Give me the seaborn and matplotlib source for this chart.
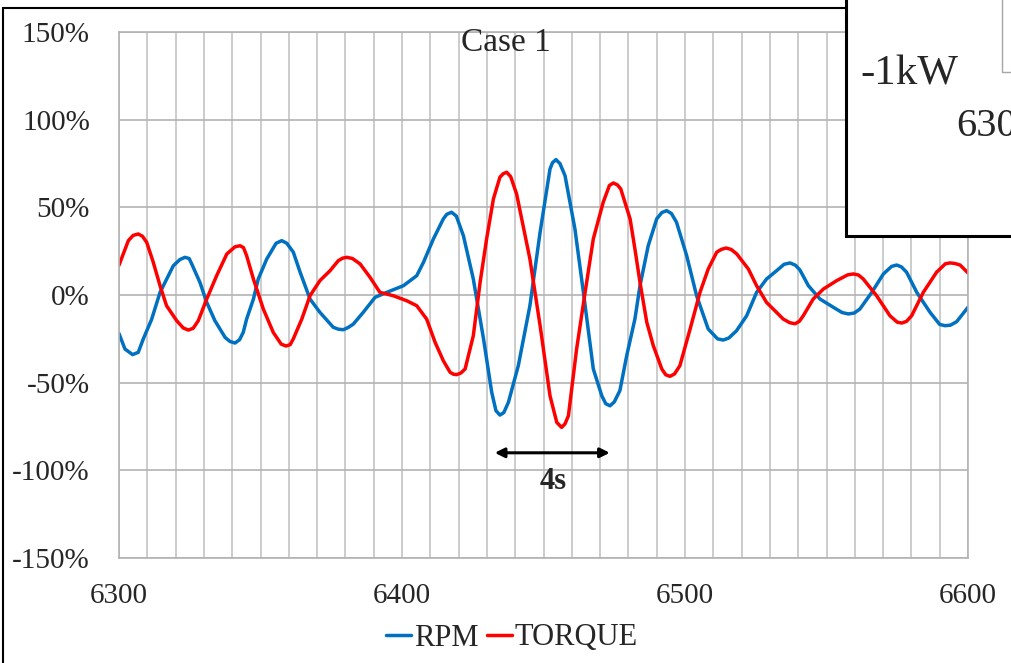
import numpy as np
import pandas as pd
import seaborn as sns
import matplotlib.pyplot as plt
from matplotlib.patches import Rectangle
from matplotlib.ticker import PercentFormatter, MultipleLocator

# RPM (blue), values in percent
rpm_t = [6300, 6302.1, 6304.8, 6306.8, 6308.6, 6311.5, 6314.5, 6319.2, 6321.5, 6323.3,
         6324.8, 6325.7, 6328.6, 6331, 6333.9, 6337.5, 6339.2, 6341, 6342.6, 6343.9,
         6345.1, 6347.5, 6349.2, 6352.2, 6355.5, 6357.5, 6359.3, 6361.6, 6364, 6367.5,
         6371, 6375.7, 6377.5, 6379.3, 6381, 6382.8, 6386.3, 6390.5, 6394.6, 6400.5,
         6405.2, 6407.6, 6411.1, 6414.6, 6415.8, 6417.5, 6419.2, 6421.7, 6425.2, 6428.8,
         6431.7, 6433.2, 6434.6, 6436, 6437.6, 6441.1, 6445.2, 6448.8, 6452.3, 6453.2,
         6454.4, 6455.8, 6457.6, 6461.1, 6464.1, 6467.6, 6470.6, 6472, 6473.5, 6475,
         6477, 6479.4, 6482.3, 6484.1, 6487, 6490, 6491.8, 6493.5, 6495.2, 6497,
         6500.6, 6504.1, 6508.2, 6511.5, 6513.5, 6515.5, 6518.2, 6521.8, 6525.3, 6528.8,
         6532.4, 6535, 6537.1, 6539, 6540.6, 6543.6, 6547.7, 6552.4, 6555.5, 6557.7,
         6559.8, 6561.8, 6566, 6570.1, 6573, 6574.8, 6576.5, 6578.3, 6581.9, 6586.6,
         6590, 6591.9, 6593.8, 6596, 6600]
rpm_v = [-22, -30.8, -34, -32.7, -25, -14, 1.5, 16.7, 20.2, 21.5,
         20.8, 17.7, 7.2, -4.2, -14.7, -24.2, -26.5, -27.4, -25.5, -21.3,
         -13.7, -2.3, 9.1, 20.5, 29.5, 31, 29.5, 24.4, 13, -2.3,
         -9.9, -18.4, -19.5, -19.8, -18.5, -16.6, -9.9, -1.3, 1.5, 5.3,
         11, 18.7, 32, 43.4, 46, 47.2, 45, 33.8, 9.1, -25,
         -55.5, -66, -68.5, -67, -61.2, -40.3, -6.1, 35.8, 71.9, 75.5,
         77.2, 75, 68.1, 37.7, 1.5, -42.2, -57.5, -62, -63.2, -61,
         -54.5, -34.6, -13.7, 5.3, 28.1, 43.4, 47, 48.1, 46.5, 41.5,
         22.4, -0.4, -19.4, -25, -25.7, -24.5, -20.4, -11.8, 1.5, 9.1,
         13.9, 17.5, 18.3, 17, 14.3, 5.3, -2.3, -7, -10, -10.8,
         -10.3, -8, 1.5, 12, 16.3, 17.1, 16, 13, 1.5, -9.9,
         -16.8, -17.5, -17.2, -15.2, -7]

# TORQUE (red), values in percent
trq_t = [6300, 6303.3, 6305, 6306.8, 6308.3, 6309.8, 6312.1, 6314.5, 6316.8, 6320.4,
         6322.7, 6324.5, 6326.2, 6328, 6331, 6334.5, 6338.1, 6341, 6342.8, 6344,
         6345.1, 6347.5, 6351, 6354.5, 6357.3, 6359, 6360.5, 6361.6, 6364.6, 6367.5,
         6371, 6374.6, 6377.5, 6379, 6380.5, 6382.5, 6385.2, 6388.7, 6392.2, 6396.9,
         6401.7, 6405.2, 6408.7, 6411.7, 6414.6, 6417, 6418.2, 6419.3, 6420.8, 6422.3,
         6425.2, 6427.6, 6429.9, 6432.3, 6434.6, 6435.8, 6437, 6438.4, 6440.5, 6445.2,
         6448.8, 6452.3, 6454.7, 6456.4, 6457.6, 6458.8, 6461.7, 6464.7, 6467.6, 6471.1,
         6473.3, 6474.7, 6476.1, 6477.3, 6480.6, 6482.3, 6484.1, 6486.5, 6488.8, 6491.8,
         6493.2, 6494.7, 6496.3, 6498.2, 6501.8, 6505.3, 6508.2, 6511.2, 6512.8, 6514.5,
         6516.3, 6518.3, 6522.4, 6525.3, 6528.8, 6534.7, 6537, 6538.9, 6540.4, 6541.8,
         6545.3, 6548.9, 6553.6, 6557.5, 6559.5, 6561.3, 6563, 6567.7, 6572.4, 6575,
         6576.6, 6578.3, 6580.1, 6584.2, 6588.9, 6592, 6593.6, 6595.3, 6597.2, 6600]
trq_v = [17, 31, 34, 34.8, 33.5, 30, 18.7, 5.3, -6.1, -14.7,
         -18.8, -20, -19, -14.7, -2.3, 11, 23.4, 27.5, 28.1, 27,
         22.4, 9.1, -8, -21.3, -28, -29.1, -28.3, -25, -13.7, -0.4,
         8.2, 13.9, 19.6, 21, 21.5, 20.8, 17.7, 10.1, 1.5, -0.4,
         -3.3, -6.1, -13.7, -27, -37.5, -44.1, -45.2, -45.4, -44.5, -42.2,
         -23.2, 7.2, 32, 54.8, 67.2, 69.2, 70, 67.5, 57.6, 20.5,
         -17.5, -57.5, -72.7, -75.5, -73.5, -68.9, -30.8, 1.5, 32, 52.9,
         62.5, 63.9, 62.8, 60.5, 43.4, 26.3, 7.2, -15.6, -28.9, -42.2,
         -45.5, -46.4, -45, -40.3, -19.4, 1.5, 14.8, 24.4, 26, 26.8,
         26, 23.4, 14.8, 5.3, -4.2, -13.7, -15.8, -16.4, -15, -11.8,
         -2.3, 3.4, 8.2, 11.5, 12, 11.4, 9.1, -0.4, -11.8, -15.5,
         -16, -15, -11.8, 1.5, 13, 17.8, 18.3, 18, 17.1, 12.6]

sns.set_style("white")
plt.rcParams['font.family'] = ['Liberation Serif', 'DejaVu Serif']
plt.rcParams['axes.unicode_minus'] = False

W, H = 1012, 663
fig = plt.figure(figsize=(W / 100, H / 100), dpi=100)
ax = fig.add_axes([119 / W, 1 - 558 / H, 849 / W, 526 / H])

sns.lineplot(x=rpm_t, y=rpm_v, ax=ax, color='#0070C0', linewidth=2.5, label='RPM')
sns.lineplot(x=trq_t, y=trq_v, ax=ax, color='#FF0000', linewidth=2.5, label='TORQUE')

ax.set_xlim(6300, 6600)
ax.set_ylim(-150, 150)
ax.xaxis.set_major_locator(MultipleLocator(100))
ax.xaxis.set_minor_locator(MultipleLocator(10))
ax.yaxis.set_major_locator(MultipleLocator(50))
ax.yaxis.set_major_formatter(PercentFormatter(xmax=100, decimals=0))
ax.grid(True, which='major', axis='y', color='#b3b3b3', linewidth=1.2)
ax.grid(True, which='both', axis='x', color='#c4c4c4', linewidth=1.2)
ax.set_axisbelow(True)
ax.tick_params(axis='both', which='both', length=0, labelsize=21)
ax.tick_params(axis='y', pad=21)
ax.tick_params(axis='x', pad=18)
for s in ax.spines.values():
    s.set_color('#b3b3b3')
    s.set_linewidth(1.2)

ax.legend(loc='center', bbox_to_anchor=(512 / W, 1 - 638 / H), bbox_transform=fig.transFigure,
          ncol=2, frameon=False, fontsize=22, handlelength=0.8, handletextpad=0.1,
          columnspacing=0.3, borderaxespad=0.0, borderpad=0.0)

fig.text(506 / W, 1 - 43 / H, 'Case 1', ha='center', va='center', fontsize=24)

# 4s period marker
ax.annotate('', xy=(6431.8, -90), xytext=(6474.4, -90),
            arrowprops=dict(arrowstyle='<|-|>', color='black', lw=2.2, mutation_scale=14))
ax.text(6453.4, -106.5, '4s', ha='center', va='center', fontsize=22, fontweight='bold')

# outer chart frame
fig.add_artist(Rectangle((3 / W, -0.1), 1.2, 1.1 - 8 / H, transform=fig.transFigure,
                         facecolor='none', edgecolor='black', linewidth=1.5, zorder=1))
# overlapping chart box at top right
fig.add_artist(Rectangle((846 / W, 1 - 236 / H), 0.3, 0.5, transform=fig.transFigure,
                         facecolor='white', edgecolor='black', linewidth=2.2, zorder=2))
fig.add_artist(Rectangle((1002 / W, 1 - 72 / H), 0.3, 0.5, transform=fig.transFigure,
                         facecolor='white', edgecolor='#a6a6a6', linewidth=1.0, zorder=3))
fig.text(860 / W, 1 - 74 / H, '-1kW', ha='left', va='center', fontsize=31, zorder=4)
fig.text(956 / W, 1 - 126 / H, '630', ha='left', va='center', fontsize=29, zorder=4)

plt.savefig('out.png', dpi=100)
